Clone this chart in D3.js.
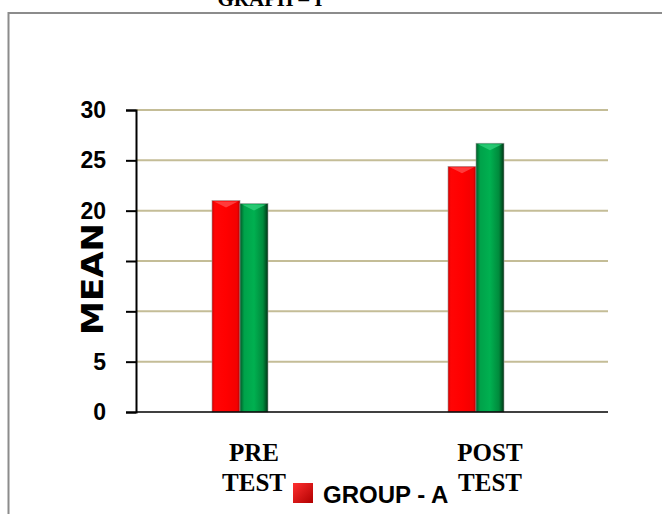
<!DOCTYPE html>
<html><head><meta charset="utf-8">
<script src="https://cdn.jsdelivr.net/npm/d3@7"></script>
<style>body{margin:0;background:#fff}svg{display:block}</style>
</head><body>
<script>
const categories = [["PRE","TEST"],["POST","TEST"]];
const categoryKeys = ["PRE TEST","POST TEST"];
const seriesNames = ["GROUP - A","GROUP - B"];
const groupA = [21.0, 24.4];
const groupB = [20.7, 26.7];
const yTicks = [0,5,10,15,20,25,30];
const yTickLabels = ["0","5","","","20","25","30"];
const title = "GRAPH – I";
const yTitle = "MEAN";
const legendLabel = "GROUP - A";

(function(){
const W=662,H=514;
const svg=d3.select("body").append("svg").attr("width",W).attr("height",H);
const defs=svg.append("defs");
function grad(id,stops){const g=defs.append("linearGradient").attr("id",id).attr("x1","0").attr("x2","1").attr("y1","0").attr("y2","0");
 stops.forEach(s=>g.append("stop").attr("offset",s[0]).attr("stop-color",s[1]));}
grad("gRed",[[0,"#d00000"],[0.1,"#ff0505"],[0.5,"#ff0000"],[0.9,"#f20000"],[1,"#b00000"]]);
grad("gGreen",[[0,"#005c28"],[0.15,"#00a24a"],[0.5,"#00b050"],[0.82,"#008a3c"],[1,"#003515"]]);
const lg=defs.append("linearGradient").attr("id","gLeg").attr("x1","0").attr("x2","1").attr("y1","0").attr("y2","1");
lg.append("stop").attr("offset",0).attr("stop-color","#ff3030");lg.append("stop").attr("offset",1).attr("stop-color","#b00000");

// frame
svg.append("rect").attr("x",8.5).attr("y",13).attr("width",720).attr("height",600)
 .attr("fill","none").attr("stroke","#8c8c8c").attr("stroke-width",2);
svg.append("text").attr("x",270).attr("y",6).attr("text-anchor","middle")
 .attr("font-family","Liberation Serif, Times New Roman, serif").attr("font-weight","bold")
 .attr("font-size",21).text(title);

const pLeft=136,pRight=608,pTop=110,pBottom=412;
const y=d3.scaleLinear().domain([0,30]).range([pBottom,pTop]);
const x=d3.scaleBand().domain(categoryKeys).range([pLeft,pRight]);
const xs=d3.scaleBand().domain(seriesNames).range([0,56]);
const groupOffset=-42;

// grid
svg.append("g").selectAll("line").data(yTicks.filter(d=>d>0)).join("line")
 .attr("x1",pLeft).attr("x2",pRight).attr("y1",d=>y(d)).attr("y2",d=>y(d))
 .attr("stroke","#c4bd97").attr("stroke-width",2);

// y axis
const yAxis=d3.axisLeft(y).tickValues(yTicks).tickSize(10).tickFormat((d,i)=>yTickLabels[i]);
const ga=svg.append("g").attr("transform",`translate(${pLeft},0)`).call(yAxis);
ga.select(".domain").attr("stroke","#000").attr("stroke-width",2);
ga.selectAll(".tick line").attr("stroke","#000").attr("stroke-width",2);
ga.selectAll(".tick text").attr("font-family","Liberation Sans, Arial, sans-serif")
 .attr("font-weight","bold").attr("font-size",23).attr("fill","#000").attr("x",-30);

// bars
const data=categoryKeys.map((c,i)=>({c,vals:[groupA[i],groupB[i]]}));
const fills=["url(#gRed)","url(#gGreen)"];
const tips=["#ff4a4a","#2fd07a"];
data.forEach(d=>{
 const g=svg.append("g").attr("transform",`translate(${x(d.c)+x.bandwidth()/2+groupOffset},0)`);
 d.vals.forEach((v,j)=>{
  const bx=xs(seriesNames[j]),bw=xs.bandwidth(),by=y(v);
  g.append("rect").attr("x",bx).attr("y",by).attr("width",bw).attr("height",pBottom-by)
   .attr("fill",fills[j]).attr("stroke","#9a9a9a").attr("stroke-width",0.6);
  g.append("path").attr("d",`M${bx+2},${by+1}L${bx+bw-2},${by+1}L${bx+bw/2},${by+7}Z`)
   .attr("fill",tips[j]).attr("opacity",0.8);
 });
});

// x baseline
svg.append("line").attr("x1",pLeft).attr("x2",pRight).attr("y1",pBottom).attr("y2",pBottom)
 .attr("stroke","#000").attr("stroke-width",1.5);

// category labels
categories.forEach((lines,i)=>{
 const cx=x(categoryKeys[i])+x.bandwidth()/2;
 const t=svg.append("text").attr("x",cx).attr("y",461)
  .attr("text-anchor","middle").attr("font-family","Liberation Serif, Times New Roman, serif")
  .attr("font-weight","bold").attr("font-size",25);
 lines.forEach((l,k)=>t.append("tspan").attr("x",cx).attr("dy",k?30:0).text(l));
});

// y title
svg.append("rect").attr("x",80).attr("y",222).attr("width",25).attr("height",114).attr("fill","#fff");
svg.append("text").attr("transform","translate(103,279) rotate(-90)").attr("text-anchor","middle")
 .attr("font-family","DejaVu Sans, sans-serif").attr("font-weight","bold").attr("font-size",30)
 .attr("textLength",112).attr("lengthAdjust","spacingAndGlyphs").text(yTitle);

// legend
svg.append("rect").attr("x",293).attr("y",483).attr("width",20).attr("height",20).attr("fill","url(#gLeg)");
svg.append("text").attr("x",323).attr("y",503).attr("font-family","Liberation Sans, Arial, sans-serif")
 .attr("font-weight","bold").attr("font-size",24).text(legendLabel);
})();
</script>
</body></html>
